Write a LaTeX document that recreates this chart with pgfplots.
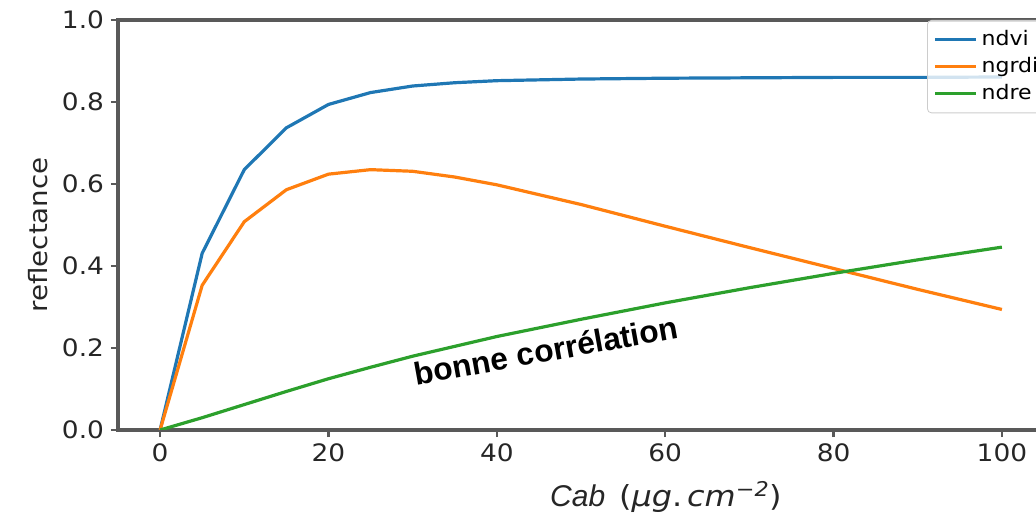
\documentclass[border=0pt]{standalone}
\usepackage{fontspec}
\setmainfont{DejaVu Sans}[FakeStretch=1.1]
\newfontfamily\lsans{Liberation Sans}
\usepackage{pgfplots}
\pgfplotsset{compat=1.18}
\definecolor{mblue}{HTML}{1F77B4}
\definecolor{morange}{HTML}{FF7F0E}
\definecolor{mgreen}{HTML}{2CA02C}
\begin{document}
\begin{tikzpicture}
\begin{axis}[name=ax, at={(0,0)}, anchor=south west,
  scale only axis, width=463bp, height=205bp,
  xmin=-5, xmax=105, ymin=0, ymax=1,
  xtick={0,20,40,60,80,100},
  ytick={0,0.2,0.4,0.6,0.8,1.0},
  yticklabel style={/pgf/number format/.cd, fixed, fixed zerofill, precision=1},
  /pgf/number format/assume math mode=true,
  tick align=outside, major tick length=3.5bp,
  xtick pos=bottom, ytick pos=left,
  axis line style={black!65, line width=1.6bp},
  tick style={black!65, line width=1.2bp},
  ticklabel style={font=\fontsize{12bp}{14bp}\selectfont, text=black!85},
  ylabel={reflectance},
  ylabel style={at={(axis description cs:-0.0864,0.476)}, anchor=center, font=\fontsize{12.6bp}{14bp}\selectfont, text=black!85},
  xlabel={{\lsans\itshape Cab}\hspace{7bp}{\fontsize{14.5bp}{16bp}\selectfont(\textit{μg}.\,\textit{cm}\textsuperscript{\textit{−2}})}},
  xlabel style={at={(axis description cs:0.592,-0.163)}, anchor=center, font=\fontsize{15bp}{17bp}\selectfont, text=black!85},
  legend style={at={(axis description cs:0.8737,1)}, anchor=north west,
    draw=black!20, rounded corners=2bp, fill=white, fill opacity=0.8, text opacity=1,
    font=\fontsize{10bp}{11bp}\selectfont, row sep=0.5bp, inner sep=3bp},
  legend cell align=left,
  legend image code/.code={\draw[#1, line width=1.6bp] (0bp,0bp) -- (20.5bp,0bp);},
]
\addplot[mblue, line width=1.6bp] coordinates {
(0,0) (5,0.431) (10,0.635) (15,0.737) (20,0.794) (25,0.823) (30,0.839) (35,0.847) (40,0.852) (50,0.856) (60,0.858) (70,0.859) (80,0.86) (90,0.86) (100,0.861)};
\addlegendentry{ndvi}
\addplot[morange, line width=1.6bp] coordinates {
(0,0) (5,0.353) (10,0.508) (15,0.586) (20,0.624) (25,0.635) (30,0.631) (35,0.617) (40,0.598) (50,0.55) (60,0.497) (70,0.445) (80,0.394) (90,0.343) (100,0.294)};
\addlegendentry{ngrdi}
\addplot[mgreen, line width=1.6bp] coordinates {
(0,0) (5,0.03) (10,0.062) (15,0.094) (20,0.125) (25,0.153) (30,0.18) (40,0.228) (50,0.27) (60,0.31) (70,0.347) (80,0.382) (90,0.415) (100,0.446)};
\addlegendentry{ndre}
\node[anchor=base, rotate=10.3, font=\lsans\bfseries\fontsize{15.8bp}{18bp}\selectfont] at (axis cs:46.1,0.167) {bonne corrélation};
\end{axis}
\pgfresetboundingbox
\path[use as bounding box] ([shift={(-59bp,-44.5bp)}]ax.south west) rectangle ++(518bp,259.5bp);
\end{tikzpicture}
\end{document}
